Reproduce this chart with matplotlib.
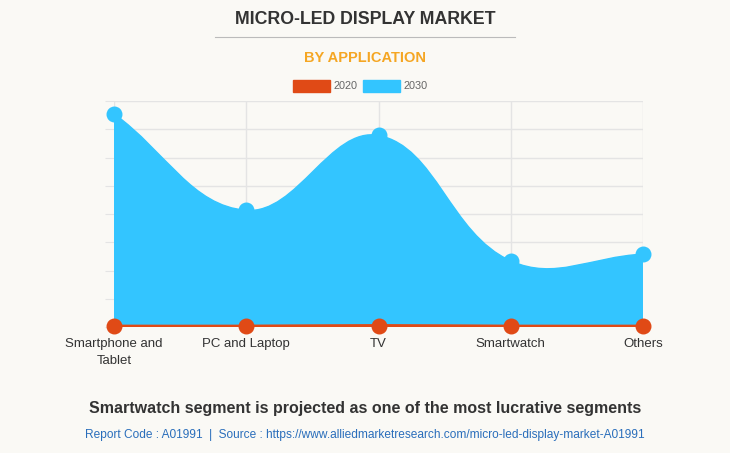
"""
micro-led display market by application
"""
import matplotlib.pyplot as plt
import numpy as np
from matplotlib.path import Path
from matplotlib.patches import PathPatch

plt.rcParams['font.family'] = ['Liberation Sans', 'DejaVu Sans']

categories = ["Smartphone and\nTablet", "PC and Laptop", "TV", "Smartwatch", "Others"]
values_2020 = [0.03, 0.03, 0.05, 0.03, 0.03]
values_2030 = [7.55, 4.13, 6.78, 2.34, 2.58]
series_labels = ["2020", "2030"]

BG = "#faf9f5"
RED = "#e04a16"
BLUE = "#33c5ff"


def spline_path(ax, xs, ys, tension=0.4):
    # chart.js style bezier, computed in pixel space
    pts = ax.transData.transform(np.column_stack([xs, ys]))
    n = len(pts)
    ctrl_prev = pts.copy()
    ctrl_next = pts.copy()
    for i in range(n):
        prev = pts[i - 1] if i > 0 else pts[i]
        nxt = pts[i + 1] if i < n - 1 else pts[i]
        d01 = np.hypot(*(pts[i] - prev))
        d12 = np.hypot(*(nxt - pts[i]))
        tot = d01 + d12
        s01 = d01 / tot if tot else 0
        s12 = d12 / tot if tot else 0
        ctrl_prev[i] = pts[i] - tension * s01 * (nxt - prev)
        ctrl_next[i] = pts[i] + tension * s12 * (nxt - prev)
    verts = [pts[0]]
    codes = [Path.MOVETO]
    for i in range(n - 1):
        verts += [ctrl_next[i], ctrl_prev[i + 1], pts[i + 1]]
        codes += [Path.CURVE4] * 3
    inv = ax.transData.inverted()
    return inv.transform(np.array(verts)), codes


fig = plt.figure(figsize=(7.3, 4.53), dpi=100, facecolor=BG)
ax = fig.add_axes([114 / 730, 1 - 327 / 453, (643 - 114) / 730, (327 - 101) / 453])
ax.set_facecolor(BG)
x = np.arange(len(categories))
ax.set_xlim(0, len(categories) - 1)
ax.set_ylim(0, 8)

# area for 2030
verts, codes = spline_path(ax, x, values_2030)
verts = np.vstack([verts, [[x[-1], 0], [x[0], 0], [x[0], values_2030[0]]]])
codes = codes + [Path.LINETO, Path.LINETO, Path.CLOSEPOLY]
ax.add_patch(PathPatch(Path(verts, codes), facecolor=BLUE, edgecolor=BLUE, lw=1, zorder=2))
ax.scatter(x, values_2030, s=110, color=BLUE, zorder=3, clip_on=False)

# 2020 line
verts, codes = spline_path(ax, x, values_2020)
verts = np.vstack([verts, [[x[-1], 0], [x[0], 0], [x[0], values_2020[0]]]])
codes = codes + [Path.LINETO, Path.LINETO, Path.CLOSEPOLY]
ax.add_patch(PathPatch(Path(verts, codes), facecolor=RED, edgecolor=RED, lw=2.2, zorder=4))
ax.scatter(x, values_2020, s=110, color=RED, zorder=5, clip_on=False)

ax.set_yticks(np.arange(0, 9, 1))
ax.set_yticklabels([])
ax.set_xticks(x)
ax.set_xticklabels(categories, fontsize=9.5, color="#333333", linespacing=1.5)
ax.grid(True, color="#e4e4e4", lw=1, zorder=0)
ax.set_axisbelow(True)
ax.tick_params(axis='y', length=6.5, color="#e4e4e4")
ax.tick_params(axis='x', length=0, pad=8)
for s in ax.spines.values():
    s.set_visible(False)

fig.text(0.5, 1 - 20 / 453, "MICRO-LED DISPLAY MARKET", ha='center', va='center',
         fontsize=12.8, fontweight='bold', color="#333333")
fig.add_artist(plt.Line2D([215 / 730, 515 / 730], [1 - 37 / 453] * 2, color="#bbbbbb", lw=0.8))
fig.text(0.5, 1 - 58 / 453, "BY APPLICATION", ha='center', va='center',
         fontsize=10.5, fontweight='bold', color="#f5a623")

# legend
for lx, col, lab in [(293, RED, series_labels[0]), (363, BLUE, series_labels[1])]:
    fig.add_artist(plt.Rectangle((lx / 730, 1 - 92 / 453), 37 / 730, 12 / 453, color=col))
    fig.text((lx + 41) / 730, 1 - 86 / 453, lab, ha='left', va='center', fontsize=7.8, color="#666666")

fig.text(0.5, 1 - 408 / 453, "Smartwatch segment is projected as one of the most lucrative segments",
         ha='center', va='center', fontsize=11.5, fontweight='bold', color="#333333")
fig.text(0.5, 1 - 435 / 453,
         "Report Code : A01991  |  Source : https://www.alliedmarketresearch.com/micro-led-display-market-A01991",
         ha='center', va='center', fontsize=8.6, color="#2a6ebb")

fig.savefig("out.png", dpi=100, facecolor=BG)
